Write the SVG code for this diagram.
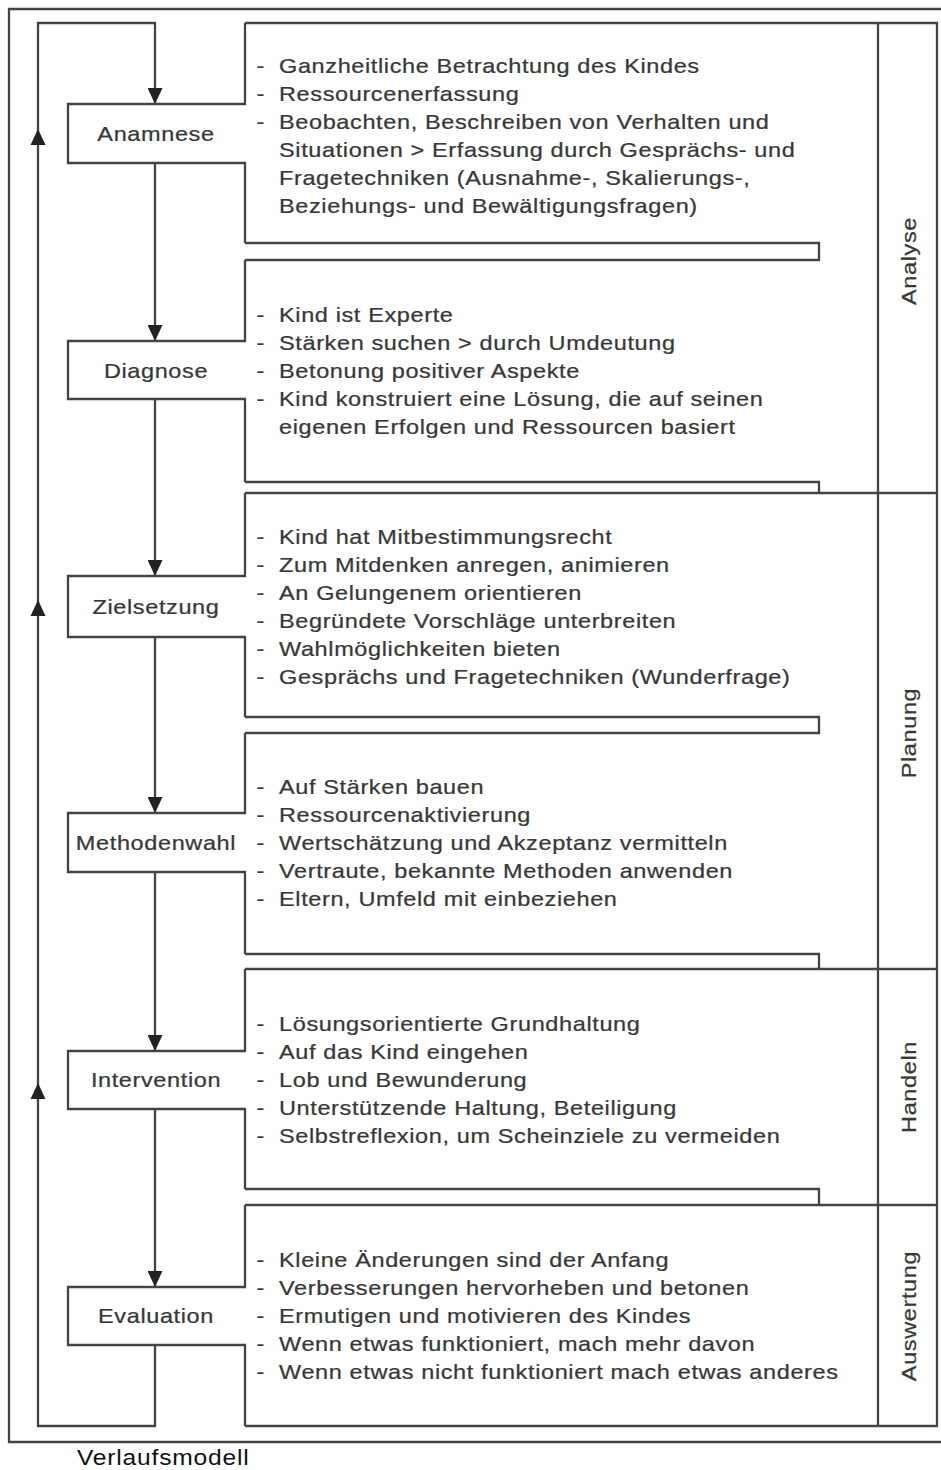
<svg xmlns="http://www.w3.org/2000/svg" width="941" height="1470" viewBox="0 0 941 1470">
<style>
.ln{fill:none;stroke:#444;stroke-width:2.3;stroke-linejoin:miter}
.t{font-family:"Liberation Sans",Arial,sans-serif;font-size:21px;letter-spacing:0.55px;fill:#383838;stroke:#383838;stroke-width:0.25}
.lbl{text-anchor:middle}
.ah{fill:#222}
</style>
<defs>
<marker id="arr" markerUnits="userSpaceOnUse" markerWidth="16" markerHeight="15" refX="16" refY="7.5" orient="auto">
<path d="M0,0 L16,7.5 L0,15 z" fill="#222"/>
</marker>
</defs>
<rect width="941" height="1470" fill="#fff"/>
<g id="frame" class="ln">
<path d="M950,9 H9 V1442 H950"/>
<path d="M245,23 H937 V1426 H245"/>
<path d="M878,23 V1426"/>
<path d="M245,493 H937 M245,969 H937 M245,1205 H937"/>
<path d="M245,243 H819 V260 H245"/>
<path d="M245,482 H819 V493"/>
<path d="M245,717 H819 V733 H245"/>
<path d="M245,954 H819 V969"/>
<path d="M245,1189 H819 V1205"/>
</g>
<g id="phases" class="t lbl">
<text transform="translate(916,261) rotate(-90) scale(1.12,1)">Analyse</text>
<text transform="translate(916,733) rotate(-90) scale(1.12,1)">Planung</text>
<text transform="translate(916,1087) rotate(-90) scale(1.12,1)">Handeln</text>
<text transform="translate(916,1316) rotate(-90) scale(1.12,1)">Auswertung</text>
</g>
<g id="connectors">
<path class="ln" d="M155,1345 V1426 H38 V23 H155 V104" marker-end="url(#arr)"/>
<path class="ln" d="M155,163 V341" marker-end="url(#arr)"/>
<path class="ln" d="M155,399 V576" marker-end="url(#arr)"/>
<path class="ln" d="M155,637 V813" marker-end="url(#arr)"/>
<path class="ln" d="M155,872 V1051" marker-end="url(#arr)"/>
<path class="ln" d="M155,1109 V1287" marker-end="url(#arr)"/>
<path class="ah" d="M38,129 L45.5,145 L30.5,145 z"/>
<path class="ah" d="M38,600 L45.5,616 L30.5,616 z"/>
<path class="ah" d="M38,1083 L45.5,1099 L30.5,1099 z"/>
</g>
<g id="anamnese">
<path class="ln" d="M245,23 V104 H68 V163 H245 V243"/>
<text class="t lbl" transform="translate(156,141) scale(1.12,1)">Anamnese</text>
<g class="t" transform="translate(279,0) scale(1.12,1)">
<text x="-20" y="73">-</text><text x="0" y="73">Ganzheitliche Betrachtung des Kindes</text>
<text x="-20" y="101">-</text><text x="0" y="101">Ressourcenerfassung</text>
<text x="-20" y="129">-</text><text x="0" y="129">Beobachten, Beschreiben von Verhalten und</text>
<text x="0" y="157">Situationen &gt; Erfassung durch Gesprächs- und</text>
<text x="0" y="185">Fragetechniken (Ausnahme-, Skalierungs-,</text>
<text x="0" y="213">Beziehungs- und Bewältigungsfragen)</text>
</g>
</g>
<g id="diagnose">
<path class="ln" d="M245,260 V341 H68 V399 H245 V482"/>
<text class="t lbl" transform="translate(156,378) scale(1.12,1)">Diagnose</text>
<g class="t" transform="translate(279,0) scale(1.12,1)">
<text x="-20" y="322">-</text><text x="0" y="322">Kind ist Experte</text>
<text x="-20" y="350">-</text><text x="0" y="350">Stärken suchen &gt; durch Umdeutung</text>
<text x="-20" y="378">-</text><text x="0" y="378">Betonung positiver Aspekte</text>
<text x="-20" y="406">-</text><text x="0" y="406">Kind konstruiert eine Lösung, die auf seinen</text>
<text x="0" y="434">eigenen Erfolgen und Ressourcen basiert</text>
</g>
</g>
<g id="zielsetzung">
<path class="ln" d="M245,493 V576 H68 V637 H245 V717"/>
<text class="t lbl" transform="translate(156,614) scale(1.12,1)">Zielsetzung</text>
<g class="t" transform="translate(279,0) scale(1.12,1)">
<text x="-20" y="544">-</text><text x="0" y="544">Kind hat Mitbestimmungsrecht</text>
<text x="-20" y="572">-</text><text x="0" y="572">Zum Mitdenken anregen, animieren</text>
<text x="-20" y="600">-</text><text x="0" y="600">An Gelungenem orientieren</text>
<text x="-20" y="628">-</text><text x="0" y="628">Begründete Vorschläge unterbreiten</text>
<text x="-20" y="656">-</text><text x="0" y="656">Wahlmöglichkeiten bieten</text>
<text x="-20" y="684">-</text><text x="0" y="684">Gesprächs und Fragetechniken (Wunderfrage)</text>
</g>
</g>
<g id="methodenwahl">
<path class="ln" d="M245,733 V813 H68 V872 H245 V954"/>
<text class="t lbl" transform="translate(156,850) scale(1.12,1)">Methodenwahl</text>
<g class="t" transform="translate(279,0) scale(1.12,1)">
<text x="-20" y="794">-</text><text x="0" y="794">Auf Stärken bauen</text>
<text x="-20" y="822">-</text><text x="0" y="822">Ressourcenaktivierung</text>
<text x="-20" y="850">-</text><text x="0" y="850">Wertschätzung und Akzeptanz vermitteln</text>
<text x="-20" y="878">-</text><text x="0" y="878">Vertraute, bekannte Methoden anwenden</text>
<text x="-20" y="906">-</text><text x="0" y="906">Eltern, Umfeld mit einbeziehen</text>
</g>
</g>
<g id="intervention">
<path class="ln" d="M245,969 V1051 H68 V1109 H245 V1189"/>
<text class="t lbl" transform="translate(156,1087) scale(1.12,1)">Intervention</text>
<g class="t" transform="translate(279,0) scale(1.12,1)">
<text x="-20" y="1031">-</text><text x="0" y="1031">Lösungsorientierte Grundhaltung</text>
<text x="-20" y="1059">-</text><text x="0" y="1059">Auf das Kind eingehen</text>
<text x="-20" y="1087">-</text><text x="0" y="1087">Lob und Bewunderung</text>
<text x="-20" y="1115">-</text><text x="0" y="1115">Unterstützende Haltung, Beteiligung</text>
<text x="-20" y="1143">-</text><text x="0" y="1143">Selbstreflexion, um Scheinziele zu vermeiden</text>
</g>
</g>
<g id="evaluation">
<path class="ln" d="M245,1205 V1287 H68 V1345 H245 V1426"/>
<text class="t lbl" transform="translate(156,1323) scale(1.12,1)">Evaluation</text>
<g class="t" transform="translate(279,0) scale(1.12,1)">
<text x="-20" y="1267">-</text><text x="0" y="1267">Kleine Änderungen sind der Anfang</text>
<text x="-20" y="1295">-</text><text x="0" y="1295">Verbesserungen hervorheben und betonen</text>
<text x="-20" y="1323">-</text><text x="0" y="1323">Ermutigen und motivieren des Kindes</text>
<text x="-20" y="1351">-</text><text x="0" y="1351">Wenn etwas funktioniert, mach mehr davon</text>
<text x="-20" y="1379">-</text><text x="0" y="1379">Wenn etwas nicht funktioniert mach etwas anderes</text>
</g>
</g>
<text id="caption" transform="translate(77,1465) scale(1.12,1)" style="font-family:'Liberation Sans',Arial,sans-serif;font-size:22px;letter-spacing:0.7px;fill:#111">Verlaufsmodell</text>
</svg>
